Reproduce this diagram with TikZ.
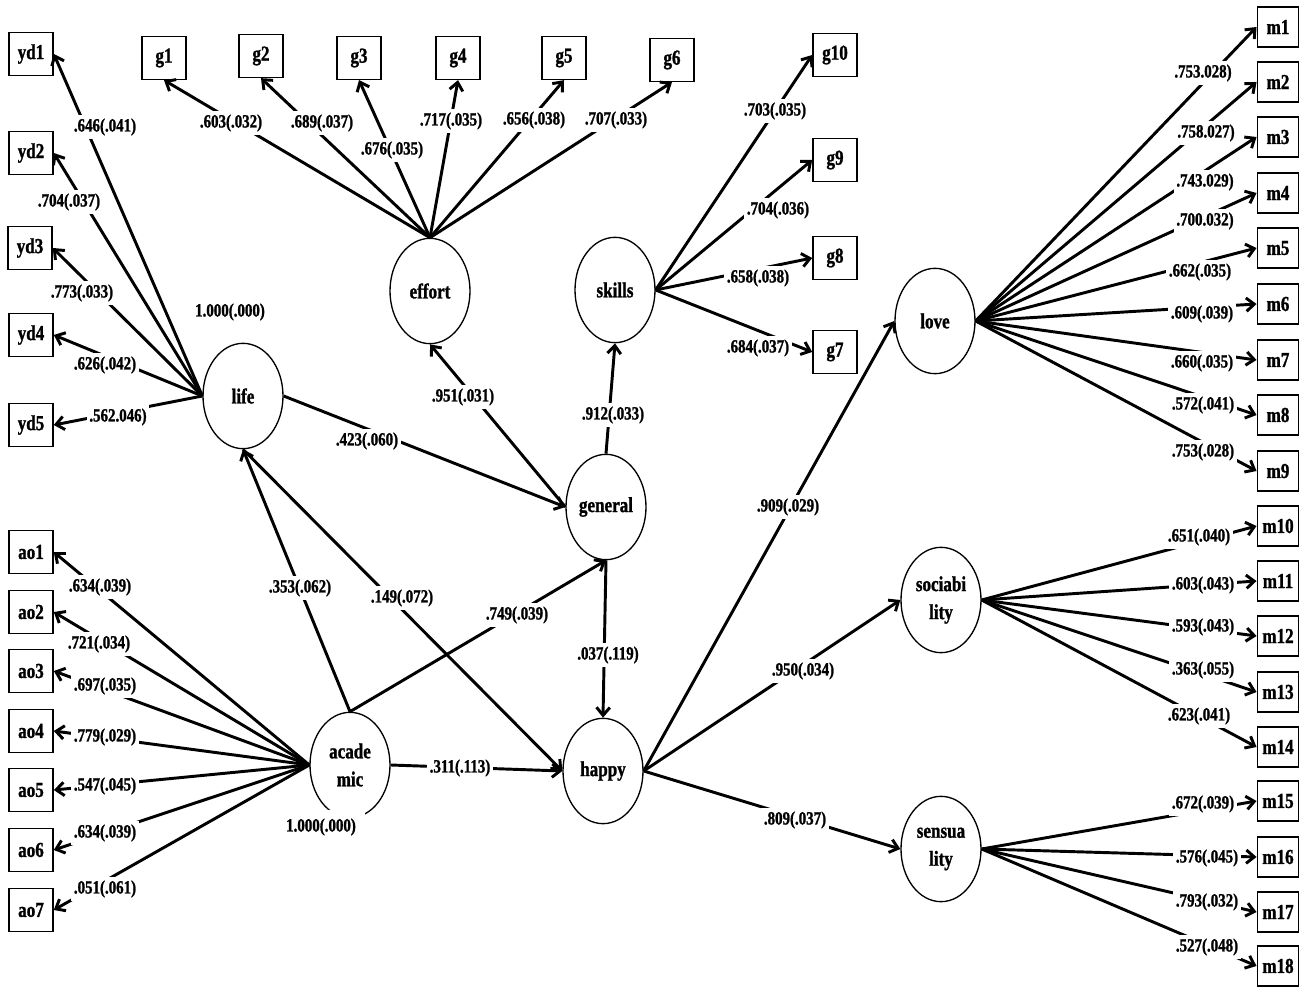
\documentclass[tikz,border=0pt]{standalone}
\usepackage{fontspec}
\setmainfont{Liberation Serif}[FakeStretch=0.8,BoldFeatures={FakeBold=1.2}]
\usetikzlibrary{arrows.meta,shapes.geometric}

\begin{document}
\begin{tikzpicture}[x=0.75pt,y=0.75pt,yscale=-1,xscale=1,
    ind/.style={draw,line width=1.2pt,minimum width=33pt,minimum height=32pt,inner sep=0pt,font=\fontsize{16}{19}\selectfont\bfseries},
    mbox/.style={ind,minimum width=31pt,minimum height=30pt},
    latent/.style={draw,ellipse,line width=1pt,minimum width=60pt,minimum height=79pt,inner sep=0pt,align=center,font=\fontsize{16}{21}\selectfont\bfseries},
    coef/.style={fill=white,inner xsep=2pt,inner ysep=3pt,font=\fontsize{14}{16}\selectfont\bfseries},
    load/.style={line width=2.2pt,-{Straight Barb[length=6pt,width=10pt]}}]
        %set diagram frame 1300 x 987
        \useasboundingbox (0,0) rectangle (1300,987);

        %Shape: Ellipse (latent factors)
        \node [latent] (life) at (243,396) {life};
        \node [latent] (effort) at (430,291) {effort};
        \node [latent] (skills) at (615,290) {skills};
        \node [latent] (general) at (606,507) {general};
        \node [latent] (academic) at (350,765) {acade\\mic};
        \node [latent] (happy) at (603,771) {happy};
        \node [latent] (love) at (935,321) {love};
        \node [latent] (sociability) at (941,600) {sociabi\\lity};
        \node [latent] (sensuality) at (941,849) {sensua\\lity};

        %Shape: Rectangle (yd items)
        \node [ind] (yd1) at (31,54) {yd1};
        \node [ind] (yd2) at (31,153) {yd2};
        \node [ind] (yd3) at (30,248) {yd3};
        \node [ind] (yd4) at (31,335) {yd4};
        \node [ind] (yd5) at (31,425) {yd5};
        %Shape: Rectangle (g items)
        \node [ind] (g1) at (164,58) {g1};
        \node [ind] (g2) at (261,56) {g2};
        \node [ind] (g3) at (359,58) {g3};
        \node [ind] (g4) at (458,58) {g4};
        \node [ind] (g5) at (564,58) {g5};
        \node [ind] (g6) at (672,60) {g6};
        \node [ind] (g10) at (835,55) {g10};
        \node [ind] (g9) at (835,160) {g9};
        \node [ind] (g8) at (835,258) {g8};
        \node [ind] (g7) at (835,352) {g7};
        %Shape: Rectangle (ao items)
        \node [ind] (ao1) at (31,552) {ao1};
        \node [ind] (ao2) at (31,612) {ao2};
        \node [ind] (ao3) at (31,671) {ao3};
        \node [ind] (ao4) at (31,731) {ao4};
        \node [ind] (ao5) at (31,790) {ao5};
        \node [ind] (ao6) at (31,850) {ao6};
        \node [ind] (ao7) at (31,910) {ao7};
        %Shape: Rectangle (m items)
        \node [mbox] (m1) at (1278,27) {m1};
        \node [mbox] (m2) at (1278,82) {m2};
        \node [mbox] (m3) at (1278,137) {m3};
        \node [mbox] (m4) at (1278,193) {m4};
        \node [mbox] (m5) at (1278,248) {m5};
        \node [mbox] (m6) at (1278,304) {m6};
        \node [mbox] (m7) at (1278,360) {m7};
        \node [mbox] (m8) at (1278,415) {m8};
        \node [mbox] (m9) at (1278,471) {m9};
        \node [mbox] (m10) at (1278,526) {m10};
        \node [mbox] (m11) at (1278,581) {m11};
        \node [mbox] (m12) at (1278,636) {m12};
        \node [mbox] (m13) at (1278,692) {m13};
        \node [mbox] (m14) at (1278,747) {m14};
        \node [mbox] (m15) at (1278,801) {m15};
        \node [mbox] (m16) at (1278,857) {m16};
        \node [mbox] (m17) at (1278,912) {m17};
        \node [mbox] (m18) at (1278,966) {m18};

        %Straight Lines (loadings)
        \draw [load] (life.west) -- (yd1.east);
        \draw [load] (life.west) -- (yd2.east);
        \draw [load] (life.west) -- (yd3.east);
        \draw [load] (life.west) -- (yd4.east);
        \draw [load] (life.west) -- (yd5.east);
        \draw [load] (effort.north) -- (g1.south);
        \draw [load] (effort.north) -- (g2.south);
        \draw [load] (effort.north) -- (g3.south);
        \draw [load] (effort.north) -- (g4.south);
        \draw [load] (effort.north) -- (g5.south);
        \draw [load] (effort.north) -- (g6.south);
        \draw [load] (skills.east) -- (g10.west);
        \draw [load] (skills.east) -- (g9.west);
        \draw [load] (skills.east) -- (g8.west);
        \draw [load] (skills.east) -- (g7.west);
        \draw [load] (academic.west) -- (ao1.east);
        \draw [load] (academic.west) -- (ao2.east);
        \draw [load] (academic.west) -- (ao3.east);
        \draw [load] (academic.west) -- (ao4.east);
        \draw [load] (academic.west) -- (ao5.east);
        \draw [load] (academic.west) -- (ao6.east);
        \draw [load] (academic.west) -- (ao7.east);
        \draw [load] (love.east) -- (m1.west);
        \draw [load] (love.east) -- (m2.west);
        \draw [load] (love.east) -- (m3.west);
        \draw [load] (love.east) -- (m4.west);
        \draw [load] (love.east) -- (m5.west);
        \draw [load] (love.east) -- (m6.west);
        \draw [load] (love.east) -- (m7.west);
        \draw [load] (love.east) -- (m8.west);
        \draw [load] (love.east) -- (m9.west);
        \draw [load] (sociability.east) -- (m10.west);
        \draw [load] (sociability.east) -- (m11.west);
        \draw [load] (sociability.east) -- (m12.west);
        \draw [load] (sociability.east) -- (m13.west);
        \draw [load] (sociability.east) -- (m14.west);
        \draw [load] (sensuality.east) -- (m15.west);
        \draw [load] (sensuality.east) -- (m16.west);
        \draw [load] (sensuality.east) -- (m17.west);
        \draw [load] (sensuality.east) -- (m18.west);

        %Straight Lines (structural paths)
        \draw [load] (general.west) -- (effort.south);
        \draw [load] (general.north) -- (skills.south);
        \draw [load] (life.east) -- (general.west);
        \draw [load] (academic.north) -- (life.south);
        \draw [load] (life.south) -- (happy.west);
        \draw [load] (academic.north) -- (general.south);
        \draw [load] (general.south) -- (happy.north);
        \draw [load] (academic.east) -- (happy.west);
        \draw [load] (happy.east) -- (love.west);
        \draw [load] (happy.east) -- (sociability.west);
        \draw [load] (happy.east) -- (sensuality.west);

        % Text Node (life loadings)
        \node [coef] (cyd1) at (105,127) {.646(.041)};
        \node [coef] (cyd2) at (69,202) {.704(.037)};
        \node [coef] (cyd3) at (82,293) {.773(.033)};
        \node [coef] (cyd4) at (105,365) {.626(.042)};
        \node [coef] (cyd5) at (118,417) {.562.046)};
        \node [coef] (vlife) at (230,312) {1.000(.000)};
        % Text Node (effort and skills loadings)
        \node [coef] (cg1) at (231,123) {.603(.032)};
        \node [coef] (cg2) at (322,123) {.689(.037)};
        \node [coef] (cg3) at (392,150) {.676(.035)};
        \node [coef] (cg4) at (451,121) {.717(.035)};
        \node [coef] (cg5) at (534,120) {.656(.038)};
        \node [coef] (cg6) at (616,120) {.707(.033)};
        \node [coef] (cg10) at (775,111) {.703(.035)};
        \node [coef] (cg9) at (778,210) {.704(.036)};
        \node [coef] (cg8) at (758,278) {.658(.038)};
        \node [coef] (cg7) at (758,348) {.684(.037)};
        % Text Node (structural paths)
        \node [coef] (ceffort) at (463,397) {.951(.031)};
        \node [coef] (cskills) at (613,415) {.912(.033)};
        \node [coef] (clifegen) at (367,441) {.423(.060)};
        \node [coef] (cacadlife) at (300,588) {.353(.062)};
        \node [coef] (clifehap) at (402,598) {.149(.072)};
        \node [coef] (cacadgen) at (517,615) {.749(.039)};
        \node [coef] (cgenhap) at (608,655) {.037(.119)};
        \node [coef] (cacadhap) at (460,768) {.311(.113)};
        \node [coef,minimum height=26pt,minimum width=66pt] (vacad) at (321,827) {1.000(.000)};
        \node [coef] (clove) at (788,507) {.909(.029)};
        \node [coef] (csoc) at (803,671) {.950(.034)};
        \node [coef] (csens) at (795,820) {.809(.037)};
        % Text Node (academic loadings)
        \node [coef] (cao1) at (100,587) {.634(.039)};
        \node [coef] (cao2) at (99,644) {.721(.034)};
        \node [coef] (cao3) at (105,686) {.697(.035)};
        \node [coef] (cao4) at (105,737) {.779(.029)};
        \node [coef] (cao5) at (105,786) {.547(.045)};
        \node [coef] (cao6) at (105,833) {.634(.039)};
        \node [coef] (cao7) at (105,889) {.051(.061)};
        % Text Node (love, sociability, sensuality loadings)
        \node [coef] (cm1) at (1203,73) {.753.028)};
        \node [coef] (cm2) at (1206,133) {.758.027)};
        \node [coef] (cm3) at (1205,182) {.743.029)};
        \node [coef] (cm4) at (1205,221) {.700.032)};
        \node [coef] (cm5) at (1200,272) {.662(.035)};
        \node [coef] (cm6) at (1202,314) {.609(.039)};
        \node [coef] (cm7) at (1202,363) {.660(.035)};
        \node [coef] (cm8) at (1203,405) {.572(.041)};
        \node [coef] (cm9) at (1203,452) {.753(.028)};
        \node [coef] (cm10) at (1199,537) {.651(.040)};
        \node [coef] (cm11) at (1203,585) {.603(.043)};
        \node [coef] (cm12) at (1203,627) {.593(.043)};
        \node [coef] (cm13) at (1203,670) {.363(.055)};
        \node [coef] (cm14) at (1199,716) {.623(.041)};
        \node [coef] (cm15) at (1203,804) {.672(.039)};
        \node [coef] (cm16) at (1207,858) {.576(.045)};
        \node [coef] (cm17) at (1207,902) {.793(.032)};
        \node [coef] (cm18) at (1207,947) {.527(.048)};

\end{tikzpicture}
\end{document}
